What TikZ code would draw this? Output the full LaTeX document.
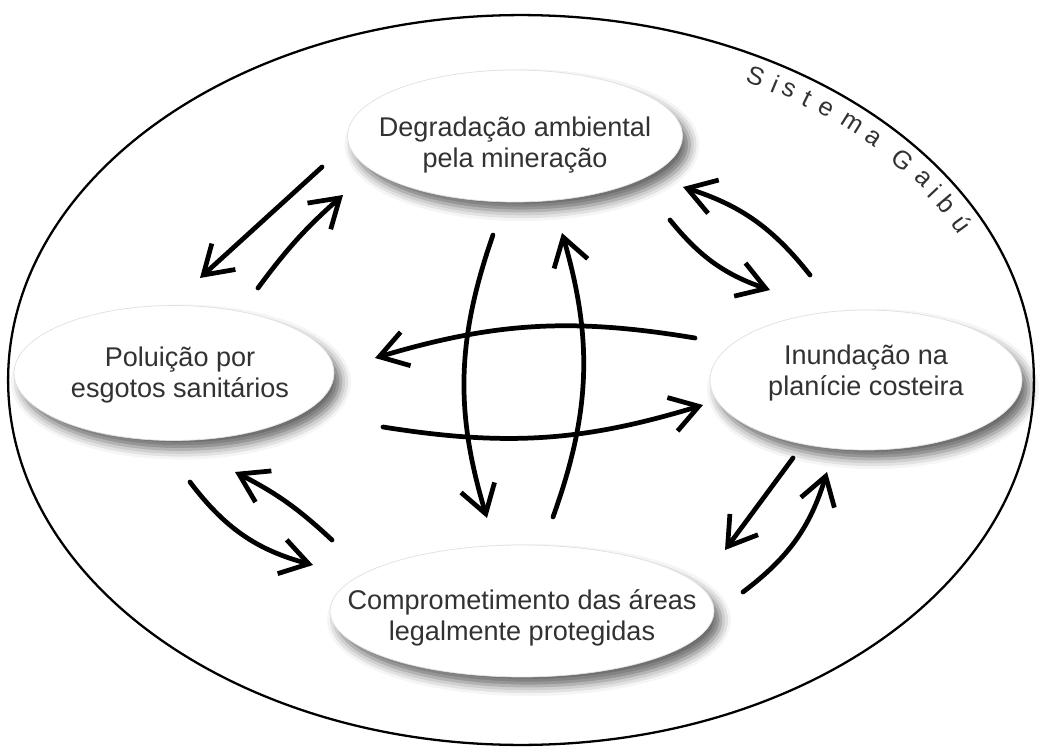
\documentclass[tikz,border=0pt]{standalone}
\usepackage{fontspec}
\setmainfont{Liberation Sans}
\usetikzlibrary{positioning}
\usetikzlibrary{arrows.meta}
\usetikzlibrary{shapes.geometric}
\usetikzlibrary{shadows.blur}
\definecolor{text-grey}{RGB}{50,50,50}

\begin{document}
\begin{tikzpicture}[x=0.02cm, y=0.02cm, >={Straight Barb[length=5.5mm,width=7mm]},
bubble/.style={ellipse, fill=white, draw=black!12, line width=0.4pt, inner sep=0pt,
  blur shadow={shadow xshift=0.14cm, shadow yshift=-0.18cm, shadow blur radius=0.2cm, shadow opacity=60}},
lbl/.style={align=center, text=text-grey, font=\fontsize{15.4}{17.8}\selectfont},
flow/.style={->, line width=2.7pt, line cap=round}]
\useasboundingbox (0,0) rectangle (1042,-754);

% system boundary
\draw[line width=1.3pt] (521,-380) ellipse [x radius=10.26cm, y radius=7.3cm];
\foreach \a/\c [count=\i] in {61.7/S, 59.1/i, 57.2/s, 54.7/t, 51.9/e, 48.0/m, 44.6/a,
                               39.6/G, 35.7/a, 33.2/i, 30.7/b, 27.0/ú}
  \node[text=text-grey, font=\fontsize{14.5}{16}\selectfont, inner sep=0pt,
        rotate={atan2(-345*cos(\a),495*sin(\a))}] (sg\i)
        at ({521+495*cos(\a)},{-380+345*sin(\a)}) {\c};

% the four problems
\node[bubble, minimum width=6.7cm, minimum height=2.64cm] (degr) at (515,-136) {};
\node[lbl] (degrtxt) at (515,-145) {Degradação ambiental\\pela mineração};

\node[bubble, minimum width=6.4cm, minimum height=2.7cm] (polu) at (174,-373) {};
\node[lbl] (polutxt) at (180,-375) {Poluição por\\esgotos sanitários};

\node[bubble, minimum width=6.24cm, minimum height=2.8cm] (inun) at (866,-380) {};
\node[lbl] (inuntxt) at (866,-373) {Inundação na\\planície costeira};

\node[bubble, minimum width=7.68cm, minimum height=2.64cm] (comp) at (522,-611) {};
\node[lbl] (comptxt) at (522,-618) {Comprometimento das áreas\\legalmente protegidas};

% arrow ends
% top - left
\coordinate (tl1) at (322,-167); \coordinate (tl2) at (200,-278);
\coordinate (tl3) at (258,-288); \coordinate (tl4) at (343,-195);
% top - right
\coordinate (tr1) at (810,-275); \coordinate (tr2) at (683,-187);
\coordinate (tr3) at (670,-220); \coordinate (tr4) at (770,-290);
% centre
\coordinate (cv1) at (493,-235); \coordinate (cv2) at (487,-518);
\coordinate (cv3) at (553,-517); \coordinate (cv4) at (562,-233);
\coordinate (ch1) at (695,-338); \coordinate (ch2) at (375,-358);
\coordinate (ch3) at (383,-427); \coordinate (ch4) at (703,-405);
% bottom - left
\coordinate (bl1) at (190,-482); \coordinate (bl2) at (313,-565);
\coordinate (bl3) at (332,-540); \coordinate (bl4) at (235,-472);
% bottom - right
\coordinate (br1) at (793,-458); \coordinate (br2) at (725,-550);
\coordinate (br3) at (743,-592); \coordinate (br4) at (827,-472);

% arrows
\draw[flow] (tl1) -- (tl2);
\draw[flow] (tl3) to[bend left=6] (tl4);
\draw[flow] (tr1) to[bend right=17] (tr2);
\draw[flow] (tr3) to[bend right=16] (tr4);
\draw[flow] (cv1) to[bend right=18] (cv2);
\draw[flow] (cv3) to[bend right=18] (cv4);
\draw[flow] (ch1) to[bend right=13] (ch2);
\draw[flow] (ch3) to[bend right=13] (ch4);
\draw[flow] (bl1) to[bend right=19] (bl2);
\draw[flow] (bl3) to[bend right=8] (bl4);
\draw[flow] (br1) -- (br2);
\draw[flow] (br3) to[bend right=18] (br4);
\end{tikzpicture}
\end{document}
